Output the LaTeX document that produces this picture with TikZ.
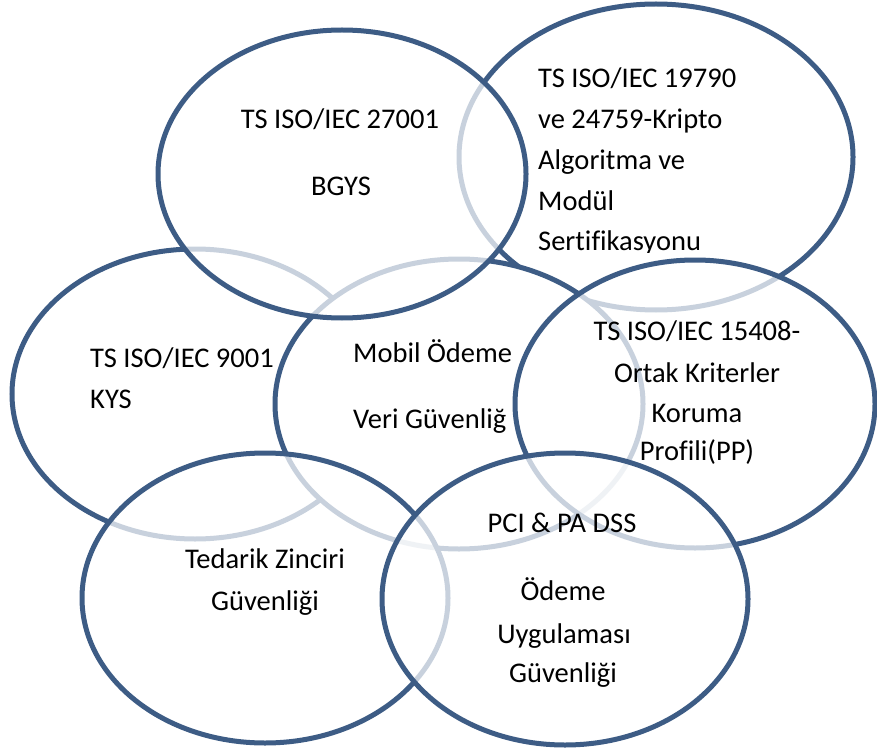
\documentclass[tikz,border=0pt]{standalone}
\usepackage{fontspec}
\setmainfont{Carlito}[Ligatures={NoCommon,NoRequired,NoContextual}]
\usetikzlibrary{shapes.geometric}
\definecolor{ringblue}{RGB}{61,92,133}
\tikzset{
  ring/.style={ellipse, draw=ringblue, line width=5pt, fill=white, fill opacity=0.72, inner sep=0pt, outer sep=0pt},
  solidring/.style={ring, fill opacity=1},
  lbl/.style={inner sep=0pt, font=\fontsize{28.5}{34}\selectfont, text=black},
}
\begin{document}
\begin{tikzpicture}[x=1pt,y=-1pt]
\useasboundingbox (0,0) rectangle (877,751);
% rings, back to front
\node[ring, minimum width=366pt, minimum height=290pt] (kys) at (195,394) {};
\node[ring, minimum width=394pt, minimum height=306pt] (kripto) at (656,157) {};
\node[solidring, minimum width=368pt, minimum height=290pt] (mobil) at (459,404) {};
\node[ring, minimum width=368pt, minimum height=288pt] (bgys) at (342,174) {};
\node[ring, minimum width=360pt, minimum height=288pt] (pp) at (695,404) {};
\node[ring, minimum width=366pt, minimum height=290pt] (tedarik) at (265,598) {};
\node[ring, minimum width=366pt, minimum height=292pt] (pci) at (565,599) {};
% labels
\node[lbl, anchor=base] (bgysA) at (340,129) {TS ISO/IEC 27001};
\node[lbl, anchor=base] (bgysB) at (341,196) {BGYS};
\node[lbl, anchor=base west] (kriA) at (538,88) {TS ISO/IEC 19790};
\node[lbl, anchor=base west] (kriB) at (538,129) {ve 24759-Kripto};
\node[lbl, anchor=base west] (kriC) at (538,170) {Algoritma ve};
\node[lbl, anchor=base west] (kriD) at (538,211) {Modül};
\begin{scope}
  \clip (520,215) rectangle (760,252);
  \node[lbl, anchor=base west] (kriE) at (538,250) {Sertifikasyonu};
\end{scope}
\node[lbl, anchor=base west] (kysA) at (90,367) {TS ISO/IEC 9001};
\node[lbl, anchor=base west] (kysB) at (90,408) {KYS};
\node[lbl, anchor=base west] (mobA) at (353,362) {Mobil Ödeme};
\node[lbl, anchor=base west] (mobB) at (353,428) {Veri Güvenliğ};
\node[lbl, anchor=base] (ppA) at (697,340) {TS ISO/IEC 15408-};
\node[lbl, anchor=base] (ppB) at (697,382) {Ortak Kriterler};
\node[lbl, anchor=base] (ppC) at (697,422) {Koruma};
\node[lbl, anchor=base] (ppD) at (697,460) {Profili(PP)};
\node[lbl, anchor=base] (tedA) at (265,568) {Tedarik Zinciri};
\node[lbl, anchor=base] (tedB) at (265,610) {Güvenliği};
\node[lbl, anchor=base] (pciA) at (562,532) {PCI \& PA DSS};
\node[lbl, anchor=base] (pciB) at (563,600) {Ödeme};
\node[lbl, anchor=base] (pciC) at (564,643) {Uygulaması};
\node[lbl, anchor=base] (pciD) at (563,682) {Güvenliği};
\end{tikzpicture}
\end{document}
